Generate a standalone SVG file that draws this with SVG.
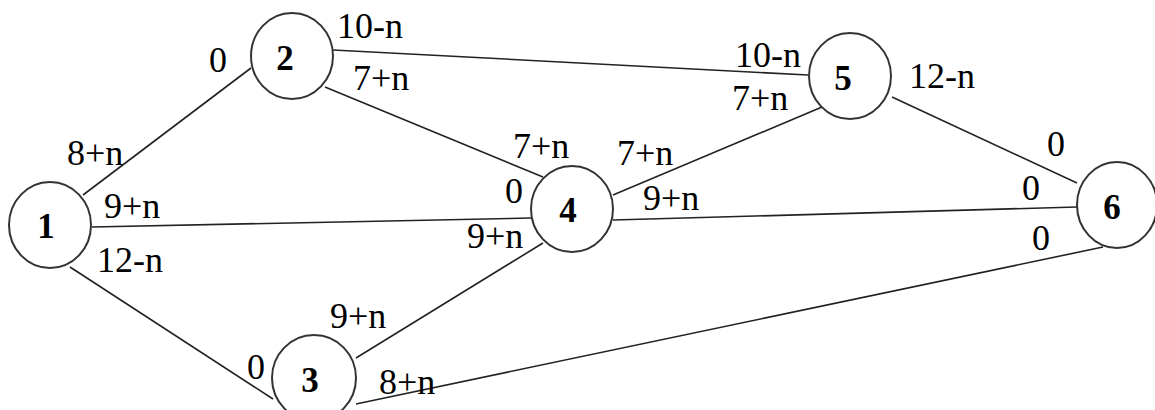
<svg xmlns="http://www.w3.org/2000/svg" width="1155" height="410" viewBox="0 0 1155 410">
<style>
.e{stroke:#222;stroke-width:1.6;fill:none}
.n{fill:#fff;stroke:#333;stroke-width:2}
.t{font-family:"Liberation Serif","Times New Roman",Times,serif;font-size:36px;fill:#000}
.b{font-family:"Liberation Serif","Times New Roman",Times,serif;font-size:35px;font-weight:bold;fill:#000;text-anchor:middle}
</style>
<rect width="1155" height="410" fill="#fff"/>
<g id="connectors">
<line class="e" x1="83" y1="195" x2="251" y2="68"/>
<line class="e" x1="92" y1="227" x2="531" y2="218"/>
<line class="e" x1="70" y1="267" x2="273" y2="399"/>
<line class="e" x1="333" y1="50" x2="808" y2="75"/>
<line class="e" x1="325" y1="87" x2="543" y2="177"/>
<line class="e" x1="822" y1="107" x2="613" y2="195"/>
<line class="e" x1="892" y1="97" x2="1077" y2="183"/>
<line class="e" x1="613" y1="220" x2="1077" y2="207"/>
<line class="e" x1="543" y1="243" x2="356" y2="358"/>
<line class="e" x1="356" y1="404" x2="1103" y2="247"/>
</g>
<g id="node1"><ellipse class="n" cx="50" cy="225" rx="41" ry="43"/><text class="b" x="46" y="238">1</text></g>
<g id="node2"><ellipse class="n" cx="292" cy="56" rx="41" ry="43"/><text class="b" x="285" y="70">2</text></g>
<g id="node3"><ellipse class="n" cx="314" cy="378" rx="42" ry="43"/><text class="b" x="310" y="392">3</text></g>
<g id="node4"><ellipse class="n" cx="572" cy="209" rx="41" ry="43"/><text class="b" x="568" y="222">4</text></g>
<g id="node5"><ellipse class="n" cx="850" cy="76" rx="41" ry="43"/><text class="b" x="843" y="90">5</text></g>
<g id="node6"><ellipse class="n" cx="1117" cy="205" rx="40" ry="43"/><text class="b" x="1112" y="219">6</text></g>
<g id="labels">
<text class="t" x="337" y="38">10-n</text>
<text class="t" x="353" y="90">7+n</text>
<text class="t" x="209" y="72">0</text>
<text class="t" x="735" y="67">10-n</text>
<text class="t" x="732" y="110">7+n</text>
<text class="t" x="909" y="88">12-n</text>
<text class="t" x="1047" y="156">0</text>
<text class="t" x="1022" y="200">0</text>
<text class="t" x="1032" y="250">0</text>
<text class="t" x="67" y="165">8+n</text>
<text class="t" x="104" y="218">9+n</text>
<text class="t" x="97" y="272">12-n</text>
<text class="t" x="513" y="158">7+n</text>
<text class="t" x="617" y="165">7+n</text>
<text class="t" x="505" y="203">0</text>
<text class="t" x="643" y="210">9+n</text>
<text class="t" x="467" y="248">9+n</text>
<text class="t" x="330" y="328">9+n</text>
<text class="t" x="247" y="379">0</text>
<text class="t" x="379" y="394">8+n</text>
</g>
</svg>
